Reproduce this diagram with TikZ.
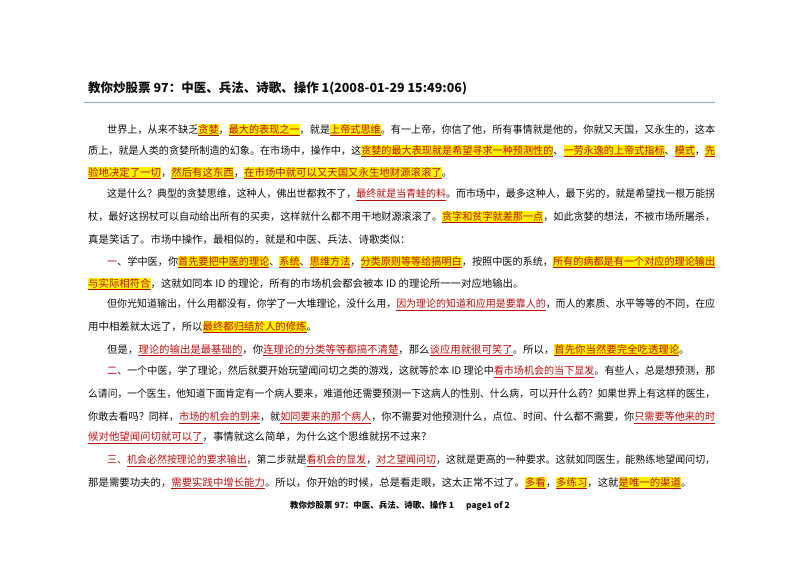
\documentclass[tikz,border=0pt]{standalone}
\usepackage{fontspec}
\setmainfont{Noto Sans CJK SC}
\usepackage{graphicx}
\definecolor{hlred}{RGB}{190,15,15}
\definecolor{rulec}{RGB}{140,165,200}
\definecolor{txt}{RGB}{15,15,15}
\newcommand\Y[1]{{\setlength\fboxsep{0pt}\colorbox{yellow}{\rule[-2.5pt]{0pt}{11.5pt}\textcolor{hlred}{\underline{#1}}}}}
\newcommand\R[1]{\textcolor{hlred}{\underline{#1}}}
\newcommand\Rp[1]{\textcolor{hlred}{#1}}
\newsavebox\lnbox
\newcommand\fitto[2]{\sbox\lnbox{#2}\pgfmathsetmacro\sxx{#1/\wd\lnbox}\scalebox{\sxx}[1]{\usebox\lnbox}}
\begin{document}
\begin{tikzpicture}[x=1pt,y=1pt,
  ln/.style={anchor=west,inner sep=0pt,font=\fontsize{10.4pt}{12pt}\selectfont,text=txt}]
\useasboundingbox[fill=white] (0,0) rectangle (800,-566);
\node[anchor=west,inner sep=0pt,font=\fontsize{12.5pt}{14pt}\selectfont\bfseries,text=txt] (title) at (88,-88) {教你炒股票 97：中医、兵法、诗歌、操作 1(2008-01-29 15:49:06)};
\draw[rulec,line width=1pt] (84,-102) -- (715,-102);
\node[ln] (l1) at (107,-130) {\fitto{608}{世界上，从来不缺乏\Y{贪婪}，\Y{最大的表现之一}，就是\Y{上帝式思维}。有一上帝，你信了他，所有事情就是他的，你就又天国，又永生的，这本}};
\node[ln] (l2) at (88,-151) {\fitto{627}{质上，就是人类的贪婪所制造的幻象。在市场中，操作中，这\Y{贪婪的最大表现就是希望寻求一种预测性的}、\Y{一劳永逸的上帝式指标}、\Y{模式}，\Y{先}}};
\node[ln] (l3) at (88,-173) {\Y{验地决定了一切}，\Y{然后有这东西}，\Y{在市场中就可以又天国又永生地财源滚滚了}。};
\node[ln] (l4) at (107,-195) {\fitto{608}{这是什么？典型的贪婪思维，这种人，佛出世都救不了，\R{最终就是当青蛙的料}。而市场中，最多这种人，最下劣的，就是希望找一根万能拐}};
\node[ln] (l5) at (88,-217) {\fitto{627}{杖，最好这拐杖可以自动给出所有的买卖，这样就什么都不用干地财源滚滚了。\Y{贪字和贫字就差那一点}，如此贪婪的想法，不被市场所屠杀，}};
\node[ln] (l6) at (88,-240) {真是笑话了。市场中操作，最相似的，就是和中医、兵法、诗歌类似：};
\node[ln] (l7) at (107,-262) {\fitto{608}{\Rp{一}、学中医，你\Y{首先要把中医的理论}、\Y{系统}、\Y{思维方法}，\Y{分类原则等等给搞明白}，按照中医的系统，\Y{所有的病都是有一个对应的理论输出}}};
\node[ln] (l8) at (88,-284) {\Y{与实际相符合}，这就如同本 ID 的理论，所有的市场机会都会被本 ID 的理论所一一对应地输出。};
\node[ln] (l9) at (107,-305) {\fitto{608}{但你光知道输出，什么用都没有，你学了一大堆理论，没什么用，\R{因为理论的知道和应用是要靠人的}，而人的素质、水平等等的不同，在应}};
\node[ln] (l10) at (88,-327) {用中相差就太远了，所以\Y{最终都归结於人的修炼}。};
\node[ln] (l11) at (107,-350) {但是，\R{理论的输出是最基础的}，你\R{连理论的分类等等都搞不清楚}，那么\R{谈应用就很可笑了}。所以，\Y{首先你当然要完全吃透理论}。};
\node[ln] (l12) at (107,-372) {\fitto{608}{\Rp{二}、一个中医，学了理论，然后就要开始玩望闻问切之类的游戏，这就等於本 ID 理论中\R{看市场机会的当下显发}。有些人，总是想预测，那}};
\node[ln] (l13) at (88,-394) {\fitto{627}{么请问，一个医生，他知道下面肯定有一个病人要来，难道他还需要预测一下这病人的性别、什么病，可以开什么药？如果世界上有这样的医生，}};
\node[ln] (l14) at (88,-418) {\fitto{627}{你敢去看吗？同样，\R{市场的机会的到来}，就\R{如同要来的那个病人}，你不需要对他预测什么，点位、时间、什么都不需要，你\R{只需要等他来的时}}};
\node[ln] (l15) at (88,-438) {\R{候对他望闻问切就可以了}，事情就这么简单，为什么这个思维就拐不过来？};
\node[ln] (l16) at (107,-461) {\fitto{608}{\Rp{三、}\R{机会必然按理论的要求输出}，第二步就是\R{看机会的显发}，\R{对之望闻问切}，这就是更高的一种要求。这就如同医生，能熟练地望闻问切，}};
\node[ln] (l17) at (88,-483) {那是需要功夫的，\R{需要实践中增长能力}。所以，你开始的时候，总是看走眼，这太正常不过了。\Y{多看}，\Y{多练习}，这就\Y{是唯一的渠道}。};
\node[inner sep=0pt,font=\fontsize{8.5pt}{10pt}\selectfont\bfseries,text=txt] (foot) at (400,-506) {教你炒股票 97：中医、兵法、诗歌、操作 1\hspace{12pt}page1 of 2};
\end{tikzpicture}
\end{document}
